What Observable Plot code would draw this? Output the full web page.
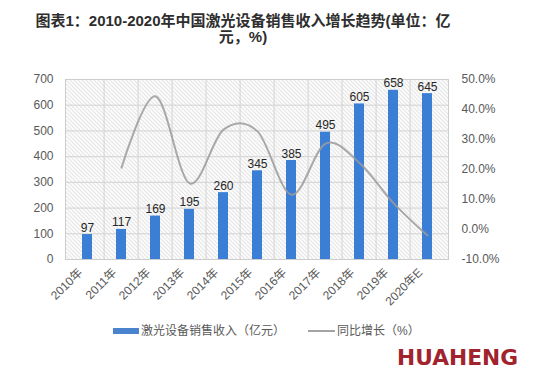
<!DOCTYPE html>
<html>
<head>
<meta charset="utf-8">
<script src="https://cdn.jsdelivr.net/npm/d3@7"></script>
<script src="https://cdn.jsdelivr.net/npm/@observablehq/plot@0.6"></script>
<style>
  html, body { margin: 0; padding: 0; background: #fff; }
  body { width: 557px; height: 381px; position: relative; overflow: hidden;
         font-family: "Liberation Sans", "Noto Sans CJK SC", sans-serif; }
  #title { position: absolute; left: 0; top: 13px; width: 486px; text-align: center;
           font-size: 15px; line-height: 16px; font-weight: bold; color: #2e2e2e;
           font-family: "Liberation Sans", "Noto Sans CJK SC", sans-serif; }
  #chart { position: absolute; left: 0; top: 50px; }
  .leg { position: absolute; font-size: 12px; color: #595959; line-height: 14px; }
  #logo { position: absolute; left: 396px; top: 345px; }
</style>
</head>
<body>
<div id="title">图表1：2010-2020年中国激光设备销售收入增长趋势(单位：亿<br>元，%)</div>
<div id="chart"></div>
<div class="leg" style="left:113px;top:328px;width:26px;height:6px;background:#4a84cf;"></div>
<div class="leg" style="left:141px;top:324px;">激光设备销售收入（亿元）</div>
<div class="leg" style="left:308px;top:330px;width:27px;height:1.6px;background:#a3a3a3;"></div>
<div class="leg" style="left:337px;top:324px;">同比增长（%）</div>
<svg id="logo" width="130" height="24"><text x="1" y="20" font-family="DejaVu Sans" font-weight="bold" font-size="21" fill="#a1232e" textLength="121" lengthAdjust="spacingAndGlyphs">HUAHENG</text></svg>
<script>
const years = ["2010年","2011年","2012年","2013年","2014年","2015年","2016年","2017年","2018年","2019年","2020年E"];
const revenue = [97,117,169,195,260,345,385,495,605,658,645];
const growth = [null,20.6,44.4,15.4,33.3,32.7,11.6,28.6,22.2,8.8,-2.0];
const leftTicks = [0,100,200,300,400,500,600,700];
const rightTicks = [-10,0,10,20,30,40,50];

// map right-axis percent onto the left-axis domain
const toLeft = p => (p + 10) * 700 / 60;
const fromLeft = v => v * 60 / 700 - 10;

const rows = years.map((y, i) => ({year: y, revenue: revenue[i], growth: growth[i]}));

const W = 557, H = 270, mL = 65, mR = 109, mT = 29, mB = 61;
const step = (W - mL - mR) / years.length;

const chart = Plot.plot({
  width: W, height: H,
  marginLeft: mL, marginRight: mR, marginTop: mT, marginBottom: mB,
  style: {fontFamily: "'Liberation Sans', 'Noto Sans CJK SC', sans-serif", fontSize: "12px", color: "#595959", background: "transparent"},
  x: {domain: years, paddingInner: 0.71, paddingOuter: 0.355, label: null},
  y: {domain: [0, 700], label: null},
  marks: [
    Plot.frame({fill: "url(#hatch)", stroke: "none"}),
    Plot.gridY(leftTicks, {stroke: "#d3d3d3", strokeOpacity: 1}),
    Plot.ruleX(years.slice(1), {dx: -step / 2, stroke: "#d3d3d3", strokeOpacity: 1}),
    Plot.frame({stroke: "#cdcdcd"}),
    Plot.barY(rows, {x: "year", y: "revenue", fill: "#3a7ed6"}),
    Plot.text(rows, {x: "year", y: "revenue", text: d => String(d.revenue), lineAnchor: "bottom", dy: -3, fill: "#262626", fontSize: 12}),
    Plot.line(rows.filter(d => d.growth != null), {x: "year", y: d => toLeft(d.growth), curve: "cardinal", stroke: "#9b9b9b", strokeWidth: 2, strokeOpacity: 0.85}),
    Plot.axisY(leftTicks, {anchor: "left", tickSize: 0, tickPadding: 12, fontSize: 12, fill: "#595959", label: null}),
    Plot.axisY(rightTicks.map(toLeft), {anchor: "right", tickSize: 0, tickPadding: 13, fontSize: 12, fill: "#595959", label: null,
      tickFormat: v => Math.round(fromLeft(v)).toFixed(1) + "%"}),
    Plot.axisX({tickSize: 0, tickPadding: 8, tickRotate: -45, dx: -7, dy: 3, fontSize: 12, fill: "#595959", label: null})
  ]
});

const ns = "http://www.w3.org/2000/svg";
const defs = document.createElementNS(ns, "defs");
defs.innerHTML = '<pattern id="hatch" patternUnits="userSpaceOnUse" width="4" height="4">' +
  '<rect width="4" height="4" fill="#ffffff"/>' +
  '<path d="M-1,-1 L5,5 M3,-1 L5,1 M-1,3 L1,5" stroke="#cccccc" stroke-width="0.9"/></pattern>';
chart.insertBefore(defs, chart.firstChild);
document.getElementById("chart").appendChild(chart);
</script>
</body>
</html>
